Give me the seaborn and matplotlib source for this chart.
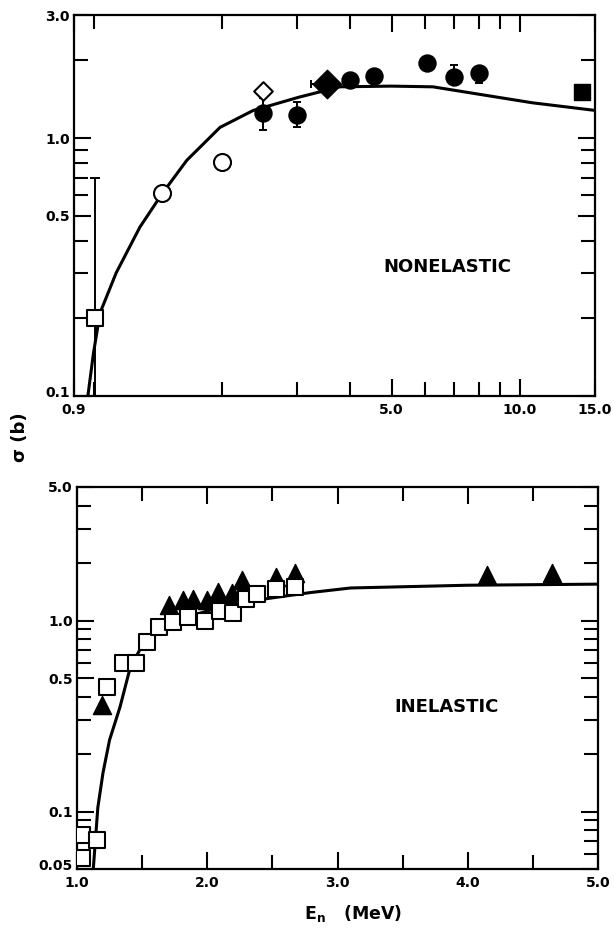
import numpy as np
import pandas as pd
import matplotlib
matplotlib.use("Agg")
import matplotlib.pyplot as plt
import matplotlib.transforms as mtransforms
import seaborn as sns
from matplotlib.ticker import FixedLocator, FixedFormatter, NullFormatter

# ---------------- top panel: NONELASTIC ----------------
curve_top_E = [0.97, 1.0, 1.036, 1.13, 1.285, 1.45, 1.655, 1.98, 2.37, 3.03, 3.78, 5.0, 6.25, 8.2, 10.7, 15.0]
curve_top_sig = [0.10, 0.147, 0.21, 0.30, 0.452, 0.61, 0.82, 1.10, 1.28, 1.44, 1.58, 1.59, 1.58, 1.47, 1.37, 1.28]

open_sq_E = [1.01]
open_sq_sig = [0.20]
open_sq_err_lo = [0.15]
open_sq_err_hi = [0.50]

open_circ_E = [1.45, 2.0]
open_circ_sig = [0.61, 0.81]

open_diam_E = [2.5]
open_diam_sig = [1.52]

filled_circ_E = [2.5, 3.0, 4.0, 4.55, 6.05, 7.0, 8.0]
filled_circ_sig = [1.25, 1.23, 1.68, 1.74, 1.96, 1.73, 1.79]
filled_circ_err_lo = [0.18, 0.13, 0.0, 0.0, 0.0, 0.0, 0.16]
filled_circ_err_hi = [0.18, 0.15, 0.0, 0.0, 0.0, 0.19, 0.0]

filled_diam_E = [3.53]
filled_diam_sig = [1.62]
filled_diam_xerr_lo = [0.29]

filled_sq_E = [14.0]
filled_sq_sig = [1.51]

top_xticks = [0.9, 5.0, 10.0, 15.0]
top_xticklabels = ["0.9", "5.0", "10.0", "15.0"]
top_xminor = [1, 2, 3, 4, 6, 7, 8, 9]
top_yticks = [0.1, 0.5, 1.0, 3.0]
top_yticklabels = ["0.1", "0.5", "1.0", "3.0"]
top_yminor = [0.2, 0.3, 0.4, 0.6, 0.7, 0.8, 0.9, 2.0]

# ---------------- bottom panel: INELASTIC ----------------
curve_bot_E = [1.125, 1.16, 1.20, 1.25, 1.33, 1.41, 1.51, 1.69, 1.94, 2.2, 2.79, 3.1, 4.0, 5.0]
curve_bot_sig = [0.05, 0.105, 0.16, 0.237, 0.352, 0.572, 0.76, 0.925, 1.09, 1.23, 1.40, 1.48, 1.53, 1.55]

sq_E = [1.04, 1.04, 1.15, 1.23, 1.35, 1.45, 1.54, 1.63, 1.74, 1.85, 1.98, 2.10, 2.20, 2.30, 2.38, 2.53, 2.67]
sq_sig = [0.075, 0.057, 0.071, 0.45, 0.60, 0.60, 0.77, 0.925, 0.98, 1.04, 1.00, 1.12, 1.09, 1.30, 1.37, 1.46, 1.49]

tri_E = [1.19, 1.71, 1.81, 1.89, 2.0, 2.08, 2.19, 2.27, 2.53, 2.67, 4.15, 4.65]
tri_sig = [0.36, 1.21, 1.28, 1.30, 1.28, 1.41, 1.39, 1.63, 1.69, 1.77, 1.74, 1.78]

bot_xticks = [1.0, 2.0, 3.0, 4.0, 5.0]
bot_xticklabels = ["1.0", "2.0", "3.0", "4.0", "5.0"]
bot_xminor = [1.5, 2.5, 3.5, 4.5]
bot_yticks = [0.05, 0.1, 0.5, 1.0, 5.0]
bot_yticklabels = ["0.05", "0.1", "0.5", "1.0", "5.0"]
bot_yminor = [0.06, 0.07, 0.08, 0.09, 0.2, 0.3, 0.4, 0.6, 0.7, 0.8, 0.9, 2.0, 3.0, 4.0]

# ---------------- style ----------------
sns.set_style("ticks")
plt.rcParams["font.family"] = ["DejaVu Sans"]
plt.rcParams["font.weight"] = "bold"
plt.rcParams["text.color"] = "black"
plt.rcParams["axes.labelcolor"] = "black"
plt.rcParams["xtick.color"] = "black"
plt.rcParams["ytick.color"] = "black"
plt.rcParams["axes.linewidth"] = 1.6

fig = plt.figure(figsize=(6.14, 9.35), dpi=100)
ax1 = fig.add_axes([74 / 614, 1 - 396 / 935, 521 / 614, 381 / 935])
ax2 = fig.add_axes([77 / 614, 1 - 869 / 935, 521 / 614, 382 / 935])

K = "black"

# top panel
sns.lineplot(x=curve_top_E, y=curve_top_sig, ax=ax1, color=K, lw=2.2, sort=False, estimator=None, zorder=2)
ax1.errorbar(open_sq_E, open_sq_sig, yerr=[open_sq_err_lo, open_sq_err_hi], fmt="none",
             ecolor=K, elinewidth=1.4, capsize=3.5, capthick=1.4, zorder=3)
ax1.errorbar(filled_circ_E, filled_circ_sig, yerr=[filled_circ_err_lo, filled_circ_err_hi], fmt="none",
             ecolor=K, elinewidth=1.4, capsize=3, capthick=1.4, zorder=3)
ax1.errorbar(filled_diam_E, filled_diam_sig, xerr=[filled_diam_xerr_lo, [0]], fmt="none",
             ecolor=K, elinewidth=1.4, capsize=3, capthick=1.4, zorder=3)
sns.scatterplot(x=open_sq_E, y=open_sq_sig, ax=ax1, marker="s", s=130, color="white", edgecolor=K, linewidth=1.5, zorder=4)
sns.scatterplot(x=open_circ_E, y=open_circ_sig, ax=ax1, marker="o", s=150, color="white", edgecolor=K, linewidth=1.5, zorder=4)
sns.scatterplot(x=open_diam_E, y=open_diam_sig, ax=ax1, marker="D", s=90, color="white", edgecolor=K, linewidth=1.5, zorder=4)
sns.scatterplot(x=filled_circ_E, y=filled_circ_sig, ax=ax1, marker="o", s=150, color=K, edgecolor=K, linewidth=1, zorder=4)
sns.scatterplot(x=filled_diam_E, y=filled_diam_sig, ax=ax1, marker="D", s=210, color=K, edgecolor=K, linewidth=1, zorder=4)
sns.scatterplot(x=filled_sq_E, y=filled_sq_sig, ax=ax1, marker="s", s=130, color=K, edgecolor=K, linewidth=1, zorder=4)

ax1.set_xscale("log")
ax1.set_yscale("log")
ax1.set_xlim(0.9, 15.0)
ax1.set_ylim(0.1, 3.0)
ax1.xaxis.set_major_locator(FixedLocator(top_xticks))
ax1.xaxis.set_major_formatter(FixedFormatter(top_xticklabels))
ax1.xaxis.set_minor_locator(FixedLocator(top_xminor))
ax1.xaxis.set_minor_formatter(NullFormatter())
ax1.yaxis.set_major_locator(FixedLocator(top_yticks))
ax1.yaxis.set_major_formatter(FixedFormatter(top_yticklabels))
ax1.yaxis.set_minor_locator(FixedLocator(top_yminor))
ax1.yaxis.set_minor_formatter(NullFormatter())
ax1.text(0.716, 0.339, "NONELASTIC", transform=ax1.transAxes, ha="center", va="center",
         fontsize=13, fontweight="bold", color=K)

# bottom panel
sns.lineplot(x=curve_bot_E, y=curve_bot_sig, ax=ax2, color=K, lw=2.2, sort=False, estimator=None, zorder=2)
sns.scatterplot(x=tri_E, y=tri_sig, ax=ax2, marker="^", s=170, color=K, edgecolor=K, linewidth=1, zorder=3)
sns.scatterplot(x=sq_E, y=sq_sig, ax=ax2, marker="s", s=120, color="white", edgecolor=K, linewidth=1.5, zorder=4)

ax2.set_yscale("log")
ax2.set_xlim(1.0, 5.0)
ax2.set_ylim(0.05, 5.0)
ax2.xaxis.set_major_locator(FixedLocator(bot_xticks))
ax2.xaxis.set_major_formatter(FixedFormatter(bot_xticklabels))
ax2.xaxis.set_minor_locator(FixedLocator(bot_xminor))
ax2.yaxis.set_major_locator(FixedLocator(bot_yticks))
ax2.yaxis.set_major_formatter(FixedFormatter(bot_yticklabels))
ax2.yaxis.set_minor_locator(FixedLocator(bot_yminor))
ax2.yaxis.set_minor_formatter(NullFormatter())
ax2.text(0.71, 0.424, "INELASTIC", transform=ax2.transAxes, ha="center", va="center",
         fontsize=13, fontweight="bold", color=K)
ax2.set_xlabel(r"E$_{\mathbf{n}}$   (MeV)", fontsize=12.5, fontweight="bold", color=K)
ax2.xaxis.set_label_coords(0.529, -0.088)

for ax in (ax1, ax2):
    ax.set_ylabel("")
    ax.tick_params(which="both", direction="in", top=True, right=True, width=1.5,
                   labelsize=10, colors=K)
    ax.tick_params(axis="y", pad=3)
    ax.tick_params(axis="x", pad=5)
    ax.tick_params(which="major", length=12)
    ax.tick_params(which="minor", length=10)
    for lab in ax.get_xticklabels() + ax.get_yticklabels():
        lab.set_fontweight("bold")
        lab.set_color(K)
    for sp in ax.spines.values():
        sp.set_visible(True)
        sp.set_linewidth(1.6)
        sp.set_color(K)
    if ax.get_legend() is not None:
        ax.get_legend().remove()
    # lift the bottom y label a little so it sits just above the corner x label
    lift = mtransforms.ScaledTranslation(0, 3 / 72, fig.dpi_scale_trans)
    ylabs = ax.get_yticklabels()
    ylabs[0].set_transform(ylabs[0].get_transform() + lift)

fig.text(20 / 614, 1 - 437 / 935, "σ (b)", rotation=90, ha="center", va="center",
         fontsize=13, fontweight="bold", color=K)

fig.savefig("out.png", dpi=100, facecolor="white")
